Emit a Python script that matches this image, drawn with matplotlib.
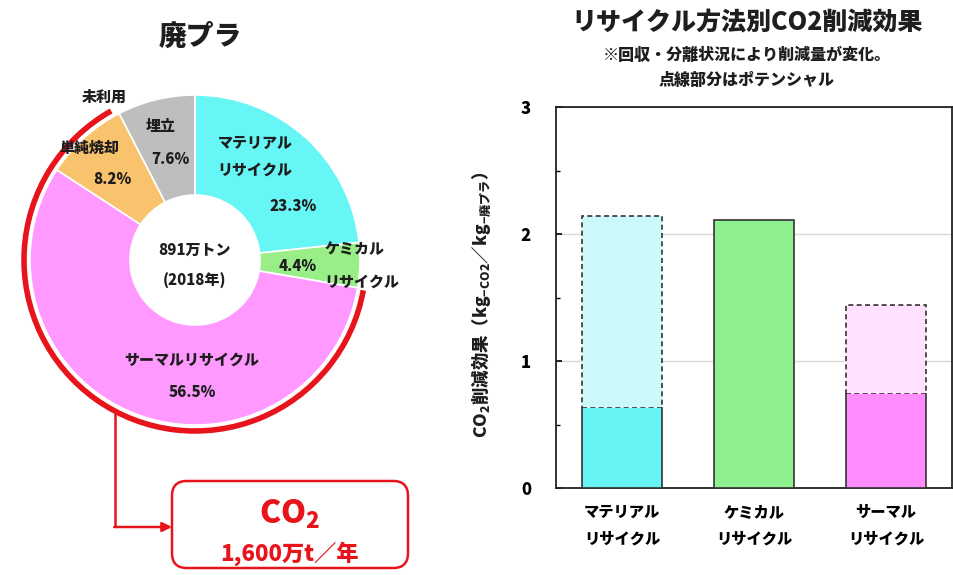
import numpy as np
import matplotlib
matplotlib.use("Agg")
import matplotlib.pyplot as plt
from matplotlib.patches import Arc, FancyBboxPatch

plt.rcParams['font.family'] = ['Noto Sans CJK JP', 'DejaVu Sans']
plt.rcParams['mathtext.fontset'] = 'custom'
plt.rcParams['mathtext.rm'] = 'Noto Sans CJK JP'
plt.rcParams['mathtext.bf'] = 'Noto Sans CJK JP:heavy'

# --- waste plastic breakdown (2018) ---
pie_labels = ['マテリアル\nリサイクル', 'ケミカル\nリサイクル', 'サーマルリサイクル', '単純焼却', '埋立']
pie_shares = [23.3, 4.4, 56.5, 8.2, 7.6]
pie_colors = ['#66F6F6', '#99EE88', '#FF99FF', '#F9C26C', '#BEBEBE']
total_label = '891万トン\n(2018年)'
co2_amount = '1,600万t／年'

# --- CO2 reduction per recycling method ---
methods = ['マテリアル\nリサイクル', 'ケミカル\nリサイクル', 'サーマル\nリサイクル']
realized = [0.63, 2.11, 0.74]
potential = [2.14, 2.11, 1.44]
solid_colors = ['#66F4F4', '#8EF08E', '#FF8CFF']
light_colors = ['#CCFAFA', '#8EF08E', '#FFE0FF']

BOLD = 'heavy'
INK = '#1e1e1e'

W, H = 954, 575
fig = plt.figure(figsize=(W / 100, H / 100), dpi=100)

# ---------------- donut ----------------
R = 165.0           # outer radius in px
cx, cy = 195, 260   # centre in px (from top)
ax1 = fig.add_axes([0, 0, 420 / W, 1])

wedges, _ = ax1.pie(pie_shares, colors=pie_colors, startangle=90, counterclock=False,
                    radius=1, wedgeprops=dict(width=1 - 65 / R, edgecolor='white', linewidth=1.2))
ax1.set_aspect('auto')
ax1.set_xlim(-cx / R, (420 - cx) / R)
ax1.set_ylim(-(H - cy) / R, cy / R)
ax1.axis('off')

# angles of wedge boundaries
bounds = 90 - 360 * np.cumsum([0] + pie_shares) / 100.0

def px(x, y):
    return (x - cx) / R, (cy - y) / R

txt = dict(ha='center', va='center', fontsize=10.8, fontweight=BOLD, color=INK)
ax1.text(*px(255, 157), pie_labels[0], linespacing=2.0, **txt)
ax1.text(*px(293, 207), f'{pie_shares[0]}%', **txt)
ax1.text(*px(355, 250), 'ケミカル', **txt)
ax1.text(*px(362, 282), 'リサイクル', **txt)
ax1.text(*px(298, 267), f'{pie_shares[1]}%', **txt)
ax1.text(*px(192, 360), pie_labels[2], **txt)
ax1.text(*px(192, 393), f'{pie_shares[2]}%', **txt)
ax1.text(*px(89, 148), pie_labels[3], **txt)
ax1.text(*px(112, 180), f'{pie_shares[3]}%', **txt)
ax1.text(*px(161, 127), pie_labels[4], **txt)
ax1.text(*px(170, 160), f'{pie_shares[4]}%', **txt)
ax1.text(*px(104, 97), '未利用', **txt)
ax1.text(*px(195, 266), total_label, linespacing=2.1, **txt)
ax1.text(*px(200, 36), '廃プラ', ha='center', va='center', fontsize=20,
         fontweight=BOLD, color=INK)

# red arc around thermal recycling + simple incineration
red = '#E8141B'
rr = 171 / R
ax1.add_patch(Arc((0, 0), 2 * rr, 2 * rr, theta1=bounds[4] + 2, theta2=bounds[2] + 360 - 0.5,
                  color=red, linewidth=4))

# connector from arc to CO2 box
x0 = (115 - cx) / R
y0 = -np.sqrt(rr ** 2 - x0 ** 2)
yb = (cy - 527) / R
xbox0, xbox1 = (172 - cx) / R, (408 - cx) / R
ybox0, ybox1 = (cy - 568) / R, (cy - 481) / R
ax1.plot([x0, x0], [y0, yb], color=red, linewidth=1.8, solid_capstyle='butt')
ax1.annotate('', xy=(xbox0, yb), xytext=(x0 - 0.005, yb),
             arrowprops=dict(arrowstyle='-|>', color=red, lw=1.8, mutation_scale=14,
                             shrinkA=0, shrinkB=0))
pad = 0.06
ax1.add_patch(FancyBboxPatch((xbox0 + pad, ybox0 + pad), xbox1 - xbox0 - 2 * pad,
                             ybox1 - ybox0 - 2 * pad,
                             boxstyle=f'round,pad={pad},rounding_size=0.09',
                             facecolor='white', edgecolor=red, linewidth=1.8))
ax1.text((xbox0 + xbox1) / 2, (cy - 514) / R, r'$\mathbf{CO_2}$', ha='center', va='center',
         fontsize=23, color=red)
ax1.text((xbox0 + xbox1) / 2, (cy - 554) / R, co2_amount, ha='center', va='center',
         fontsize=16, fontweight=BOLD, color=red)

# ---------------- bar chart ----------------
ax2 = fig.add_axes([556 / W, (H - 488) / H, 396 / W, 381 / H])
x = np.arange(len(methods))
bw = 0.6
dash = (0, (3, 2))
edge = '#333333'
for i in range(len(methods)):
    if potential[i] > realized[i]:
        ax2.bar(x[i], potential[i] - realized[i], bw, bottom=realized[i], color=light_colors[i],
                edgecolor=edge, linewidth=1.2, linestyle=dash, zorder=3)
        ax2.bar(x[i], realized[i], bw, color=solid_colors[i], edgecolor='none', zorder=3)
        l, r = x[i] - bw / 2, x[i] + bw / 2
        ax2.plot([l, l, r, r], [realized[i], 0, 0, realized[i]], color=edge,
                 linewidth=1.2, zorder=4)
    else:
        ax2.bar(x[i], realized[i], bw, color=solid_colors[i], edgecolor=edge,
                linewidth=1.2, zorder=3)

ax2.set_xlim(-0.5, 2.5)
ax2.set_ylim(0, 3)
ax2.set_yticks([0, 1, 2, 3])
ax2.set_yticks([0.5, 1.5, 2.5], minor=True)
ax2.set_yticklabels(['0', '1', '2', '3'], fontsize=12, fontweight=BOLD)
ax2.tick_params(axis='y', which='major', direction='in', length=4, width=1.2, pad=18)
ax2.tick_params(axis='y', which='minor', direction='in', length=3, width=1.0)
ax2.grid(axis='y', which='major', color='#D8D8D8', linewidth=1.0, zorder=0)
ax2.set_xticks(x)
ax2.set_xticklabels(methods, fontsize=11, fontweight=BOLD, linespacing=2.0)
ax2.tick_params(axis='x', length=0, pad=12)
for s in ax2.spines.values():
    s.set_linewidth(1.3)
    s.set_color('#222222')

ax2.set_ylabel(r'$\mathbf{CO_2削減効果（kg_{-CO2}／kg_{-廃プラ}）}$', fontsize=12.5, color=INK)
ax2.yaxis.set_label_coords(-0.16, 0.48)

fig.text(747 / W, 1 - 22 / H, 'リサイクル方法別CO2削減効果', ha='center', va='center',
         fontsize=18, fontweight=BOLD, color=INK)
fig.text(747 / W, 1 - 55 / H, '※回収・分離状況により削減量が変化。', ha='center', va='center',
         fontsize=11.5, fontweight=BOLD, color=INK)
fig.text(747 / W, 1 - 80 / H, '点線部分はポテンシャル', ha='center', va='center',
         fontsize=11.5, fontweight=BOLD, color=INK)

fig.savefig('out.png', dpi=100)
